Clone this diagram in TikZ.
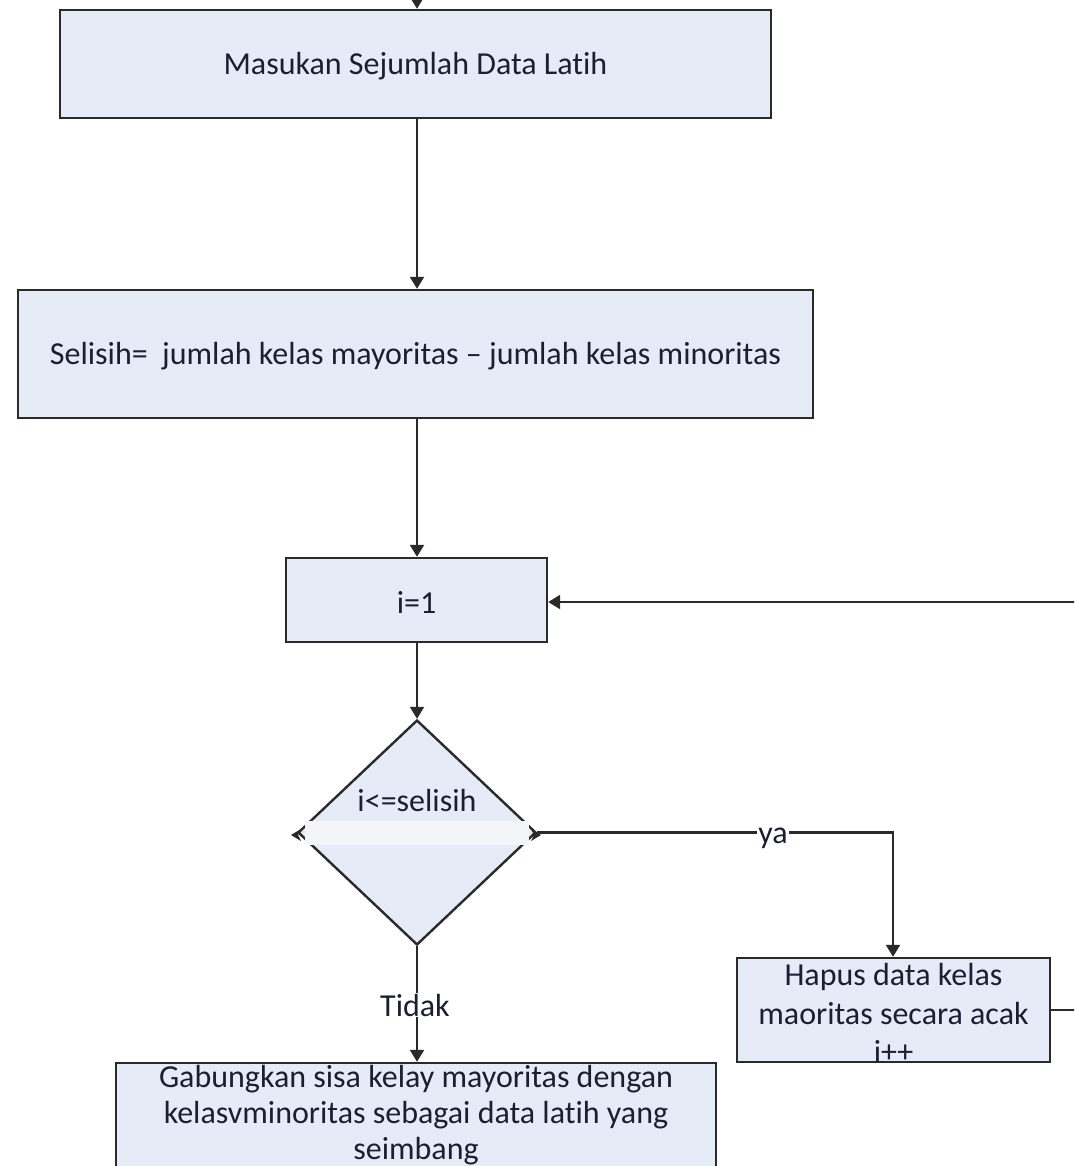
\documentclass[tikz,border=0pt]{standalone}
\usepackage{fontspec}
\setmainfont[RawFeature={-liga;-clig;-calt}]{Carlito}
\usetikzlibrary{arrows.meta,shapes.geometric}
\definecolor{boxfill}{HTML}{E5ECF7}
\definecolor{edge}{HTML}{2A2A2A}
\definecolor{txt}{HTML}{1E1E32}
\definecolor{band}{HTML}{F3F5F9}
\begin{document}
\begin{tikzpicture}[x=1pt,y=-1pt,
  box/.style={draw=edge,fill=boxfill,line width=2.4pt,inner sep=0pt},
  txtnode/.style={text=txt,align=center,inner sep=0pt,font=\fontsize{32}{38}\selectfont},
  arr/.style={-{Triangle[length=12pt,width=14pt]},line width=2.2pt,draw=edge},
  line/.style={line width=2.2pt,draw=edge},
  lbl/.style={fill=white,text=txt,inner sep=1pt,font=\fontsize{32}{36}\selectfont}]
\useasboundingbox (0,0) rectangle (1074,1166);
\clip (0,0) rectangle (1074,1166);
\fill[white] (0,0) rectangle (1074,1166);

% boxes
\node[box,minimum width=711pt,minimum height=108pt] (b1) at (415.5,64) {};
\node[txtnode] (t1) at (415.5,66) {Masukan Sejumlah Data Latih};
\node[box,minimum width=795pt,minimum height=128pt] (b2) at (415.5,354) {};
\node[txtnode] (t2) at (415.5,356) {Selisih=\ \ jumlah kelas mayoritas – jumlah kelas minoritas};
\node[box,minimum width=261pt,minimum height=84pt] (b3) at (416.5,600) {};
\node[txtnode] (t3) at (416.5,602) {i=1};
\node[box,diamond,minimum width=238pt,minimum height=225pt] (d) at (417,832.5) {};
\fill[band] (305,821) rectangle (529,845);
\fill[edge] (291,835) -- (301,829) -- (298,835) -- (301,841) -- cycle;
\fill[edge] (541,835) -- (531,829) -- (534,835) -- (531,841) -- cycle;
\node[txtnode] (dt) at (417,800) {i<=selisih};
\node[box,minimum width=313pt,minimum height=104pt] (h) at (893.5,1010) {};
\node[txtnode,font=\fontsize{32}{38.5}\selectfont] (ht) at (893.5,1013) {Hapus data kelas\\maoritas secara acak\\i++};
\node[box,minimum width=600pt,minimum height=137pt] (g) at (416,1131.5) {};
\node[txtnode,font=\fontsize{32}{36}\selectfont] (gt) at (416,1115) {Gabungkan sisa kelay mayoritas dengan\\kelasvminoritas sebagai data latih yang\\seimbang};

% connectors
\coordinate (top) at (417,-20);
\coordinate (r1) at (1100,1010);
\coordinate (r2) at (1100,602);
\draw[arr] (top) -- (b1.north -| top);
\draw[arr] (b1.south -| 417,0) -- (b2.north -| 417,0);
\draw[arr] (b2.south -| 417,0) -- (b3.north -| 417,0);
\draw[arr] (b3.south -| 417,0) -- (d.north);
\draw[arr] (d.east) -- (893,832.5) -- (h.north -| 893,0);
\node[lbl] (ya) at (773,838) {ya};
\draw[arr] (d.south) -- (g.north -| d.south);
\node[lbl] (tidak) at (415,1005) {Tidak};
\draw[line] (h.east) -- (r1) -- (r2);
\draw[arr] (r2) -- (b3.east |- r2);
\end{tikzpicture}
\end{document}
